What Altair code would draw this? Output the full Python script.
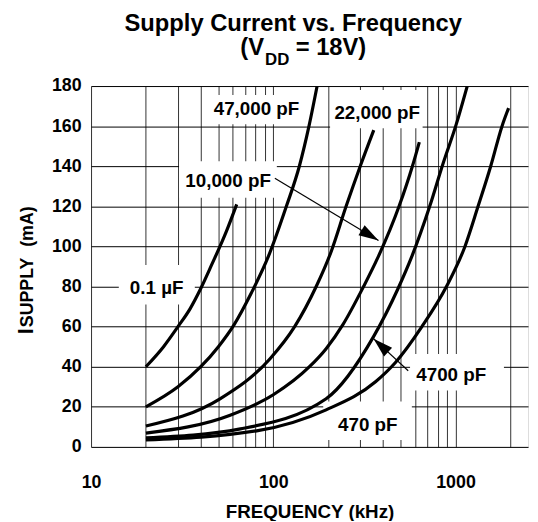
import math
import altair as alt
import pandas as pd

# ---------------- data ----------------
series_names = ["0.1 µF", "47,000 pF", "22,000 pF", "10,000 pF", "4700 pF", "470 pF"]

freq_01uF = [20, 25, 30, 35, 40, 46, 55, 63]
curr_01uF = [40, 50, 60, 69, 79, 91, 107, 121]

freq_47nF = [20, 30, 40, 50, 61, 76, 94, 118, 139, 157, 174]
curr_47nF = [20, 30, 40, 50, 61, 77, 95, 120, 140, 160, 180]

freq_22nF = [20, 51, 96, 131, 172, 207, 251, 300, 356]
curr_22nF = [10.4, 24, 44, 60, 80, 97, 120, 140, 158]

freq_10nF = [20, 58, 100, 158, 195, 241, 313, 373, 490, 580, 633]
curr_10nF = [6.9, 15.8, 26, 40, 49, 61, 80, 94, 120, 140, 152]

freq_4700pF = [20, 66, 195, 355, 484, 576, 722, 852, 1010, 1160]
curr_4700pF = [4.5, 9, 24, 55, 79, 95, 120, 141, 161, 180]

freq_470pF = [20, 81, 195, 364, 467, 654, 892, 1127, 1330, 1560, 1800, 1956]
curr_470pF = [3.5, 8, 18.5, 32.5, 42, 60, 80, 100, 120, 140, 160, 169]

# curve labels (text, frequency, current)
label_text = ["0.1 µF", "47,000 pF", "22,000 pF", "10,000 pF", "4700 pF", "470 pF"]
label_freq = [22.9, 80.9, 371.6, 56.5, 947, 330]
label_curr = [79.4, 168.4, 166.4, 132.6, 35.7, 11.1]

# white label boxes that interrupt the grid (freq range, current range)
box_f1 = [14.2, 44.7, 205, 30.4, 563, 188]
box_f2 = [37.1, 146, 660, 104.6, 1844, 576]
box_i1 = [71, 161, 159, 124.3, 28.1, 3.5]
box_i2 = [90.7, 175.5, 178, 142.5, 46.4, 22.7]

# arrows: tail -> tip
arrow_f1 = [102, 550]
arrow_i1 = [134, 38]
arrow_f2 = [378, 355]
arrow_i2 = [103, 54]

x_grid_values = [10, 20, 30, 40, 50, 60, 70, 80, 90,
                 100, 200, 300, 400, 500, 600, 700, 800, 900, 1000, 2000]
y_values = [0, 20, 40, 60, 80, 100, 120, 140, 160, 180]

# y-axis title pieces: text, start level on the current axis, font size
ytitle_text = ["I", "SUPPLY", "(mA)"]
ytitle_start = [56.2, 59.7, 99.8]
ytitle_size = [22, 18, 18]

# ---------------- layout ----------------
W, H = 442, 365
F_MIN, F_MAX = 10, 2500
I_MAX = 180
FONT = "Liberation Sans"

curves = []
for name, fs, cs in zip(series_names,
                        [freq_01uF, freq_47nF, freq_22nF, freq_10nF, freq_4700pF, freq_470pF],
                        [curr_01uF, curr_47nF, curr_22nF, curr_10nF, curr_4700pF, curr_470pF]):
    for i, (f, c) in enumerate(zip(fs, cs)):
        curves.append({"series": name, "f": f, "I": c, "order": i})
curves_df = pd.DataFrame(curves)

labels_df = pd.DataFrame({"text": label_text, "f": label_freq, "I": label_curr})
boxes_df = pd.DataFrame({"f": box_f1, "f2": box_f2, "I": box_i1, "I2": box_i2})


def px(f, i):
    x = W * (math.log10(f) - math.log10(F_MIN)) / (math.log10(F_MAX) - math.log10(F_MIN))
    y = H * (1 - i / I_MAX)
    return x, y


angles = []
for a, b, c, d in zip(arrow_f1, arrow_i1, arrow_f2, arrow_i2):
    x1, y1 = px(a, b)
    x2, y2 = px(c, d)
    angles.append(math.degrees(math.atan2(y2 - y1, x2 - x1)) % 360)
arrows_df = pd.DataFrame({"f": arrow_f1, "I": arrow_i1, "f2": arrow_f2, "I2": arrow_i2, "ang": angles})
heads_df = pd.DataFrame({"f": arrow_f2, "I": arrow_i2, "ang": angles})

xscale = alt.Scale(type="log", domain=[F_MIN, F_MAX], nice=False)
yscale = alt.Scale(domain=[0, I_MAX], nice=False)

xaxis = alt.Axis(
    values=x_grid_values,
    labelExpr="(datum.value == 10 || datum.value == 100 || datum.value == 1000) ? format(datum.value, 'd') : ''",
    title="FREQUENCY (kHz)",
    grid=True, gridColor="#333333", gridWidth=1, gridOpacity=1,
    ticks=False, domain=False,
    labelFont=FONT, labelFontWeight="bold", labelFontSize=18, labelColor="black",
    labelPadding=27, labelOverlap=False, labelFlush=False,
    titleFont=FONT, titleFontWeight="bold", titleFontSize=19, titleColor="black",
    titlePadding=11,
)
yaxis = alt.Axis(
    values=y_values, title=None,
    grid=True, gridColor="black", gridWidth=1, gridOpacity=1,
    ticks=False, domain=False,
    labelFont=FONT, labelFontWeight="bold", labelFontSize=18, labelColor="black",
    labelPadding=10, labelOverlap=False, labelFlush=False,
)

X = lambda field: alt.X(f"{field}:Q", scale=xscale, axis=xaxis)
Y = lambda field: alt.Y(f"{field}:Q", scale=yscale, axis=yaxis)

boxes = alt.Chart(boxes_df).mark_rect(color="white", opacity=1).encode(
    x=X("f"), x2="f2", y=Y("I"), y2="I2"
)

lines = alt.Chart(curves_df).mark_line(
    color="black", strokeWidth=3.2, interpolate="monotone", clip=True
).encode(x=X("f"), y=Y("I"), detail="series:N", order="order:Q")

shafts = alt.Chart(arrows_df).mark_rule(color="black", strokeWidth=1.2).encode(
    x=X("f"), x2="f2", y=Y("I"), y2="I2"
)

heads = alt.Chart(heads_df).mark_point(
    shape="M0,0L-2,-0.6L-2,0.6Z", filled=True, color="black", opacity=1, size=400, strokeWidth=0
).encode(x=X("f"), y=Y("I"), angle=alt.Angle("ang:Q", scale=None))

texts = alt.Chart(labels_df).mark_text(
    font=FONT, fontWeight="bold", fontSize=19, color="black", baseline="middle", align="center"
).encode(x=X("f"), y=Y("I"), text="text:N")

ytitle_layers = []
for t, s, sz in zip(ytitle_text, ytitle_start, ytitle_size):
    ytitle_layers.append(
        alt.Chart(pd.DataFrame({"t": [t], "I": [s]})).mark_text(
            font=FONT, fontWeight="bold", fontSize=sz, color="black",
            align="left", baseline="alphabetic", angle=270
        ).encode(x=alt.value(-59), y=Y("I"), text="t:N")
    )


def ptext(s, x, y, size, align="left"):
    return alt.Chart(pd.DataFrame({"t": [s]})).mark_text(
        font=FONT, fontWeight="bold", fontSize=size, color="black",
        align=align, baseline="alphabetic"
    ).encode(x=alt.value(x), y=alt.value(y), text="t:N")


title_layers = [
    ptext("Supply Current vs. Frequency", 204.5, -56, 24, align="center"),
    ptext("(V", 175, -31, 24, align="right"),
    ptext("DD", 176, -21, 17, align="left"),
    ptext("= 18V)", 207, -31, 24, align="left"),
]

chart = alt.layer(boxes, lines, shafts, heads, texts, *ytitle_layers, *title_layers).properties(
    width=W, height=H,
    padding={"left": 84, "top": 76, "right": 2, "bottom": 72},
    autosize=alt.AutoSizeParams(type="none"),
).configure_view(stroke="black", strokeWidth=2.5).configure(background="white")

chart.save("out.html", embed_options={"renderer": "svg", "actions": False})
